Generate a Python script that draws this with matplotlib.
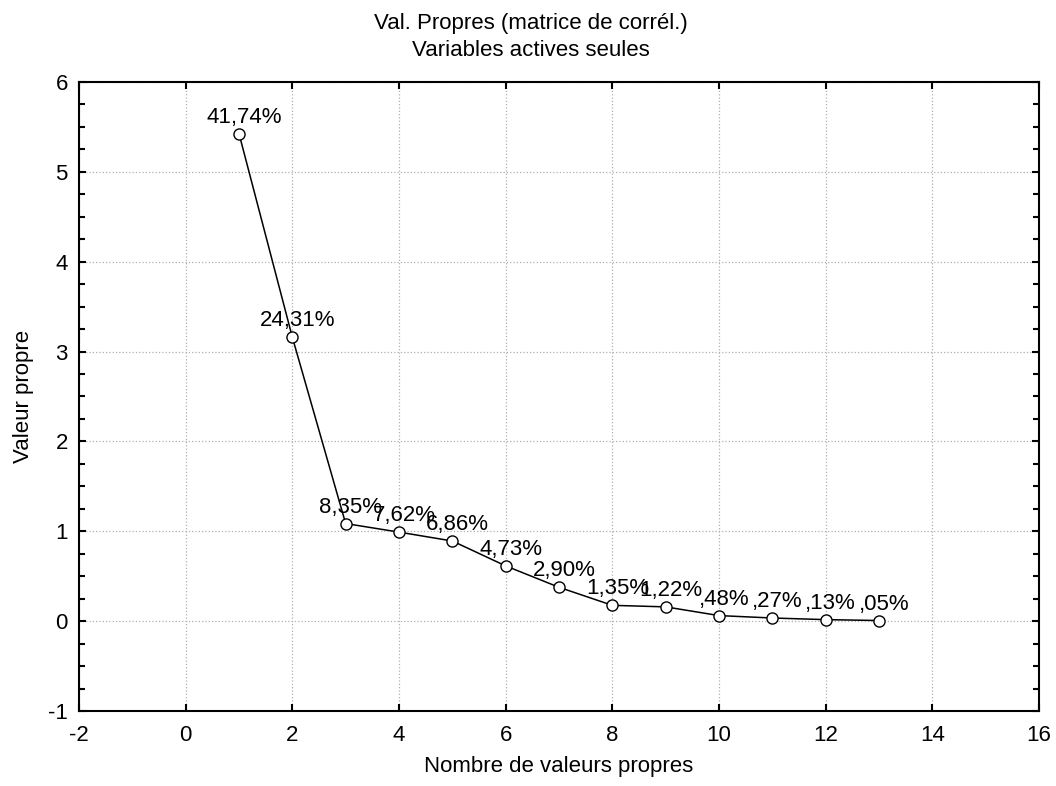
import matplotlib
matplotlib.use("Agg")
import matplotlib.pyplot as plt
from matplotlib.ticker import MultipleLocator

plt.rcParams['font.family'] = ['Liberation Sans', 'DejaVu Sans']
plt.rcParams['axes.unicode_minus'] = False

# valeurs propres
rang = [1, 2, 3, 4, 5, 6, 7, 8, 9, 10, 11, 12, 13]
valeurs = [5.426, 3.160, 1.086, 0.991, 0.892, 0.615, 0.377,
           0.176, 0.159, 0.062, 0.035, 0.017, 0.007]
etiquettes = ["41,74%", "24,31%", "8,35%", "7,62%", "6,86%", "4,73%", "2,90%",
              "1,35%", "1,22%", ",48%", ",27%", ",13%", ",05%"]

fig = plt.figure(figsize=(10.56, 7.86), dpi=100)
ax = fig.add_axes([0.0748, 0.0954, 0.9091, 0.8003])

ax.plot(rang, valeurs, color='black', lw=1.1, marker='o', ms=8,
        mfc='white', mec='black', mew=1.0, zorder=3)

for x, y, t in zip(rang, valeurs, etiquettes):
    ax.annotate(t, (x, y), xytext=(5, 11), textcoords='offset pixels',
                ha='center', va='baseline', fontsize=16, zorder=4)

ax.set_xlim(-2, 16)
ax.set_ylim(-1, 6)
ax.xaxis.set_major_locator(MultipleLocator(2))
ax.yaxis.set_major_locator(MultipleLocator(1))
ax.yaxis.set_minor_locator(MultipleLocator(0.25))

ax.grid(True, which='major', color='#b0b0b0', ls=':', lw=0.9)
ax.tick_params(which='both', direction='in', top=True, right=True,
               labelsize=16)
ax.tick_params(axis='x', pad=10)
ax.tick_params(axis='y', pad=8)
ax.tick_params(which='major', length=5, width=1.5)
ax.tick_params(which='minor', length=4, width=1.5)
for s in ax.spines.values():
    s.set_linewidth(1.5)

fig.text(0.503, 1 - 37 / 786,
         "Val. Propres (matrice de corrél.)\nVariables actives seules",
         fontsize=16, ha='center', va='center', multialignment='center',
         linespacing=1.35)
ax.set_xlabel("Nombre de valeurs propres", fontsize=16, labelpad=7)
ax.set_ylabel("Valeur propre", fontsize=16, labelpad=10)

fig.savefig("out.png", dpi=100)
